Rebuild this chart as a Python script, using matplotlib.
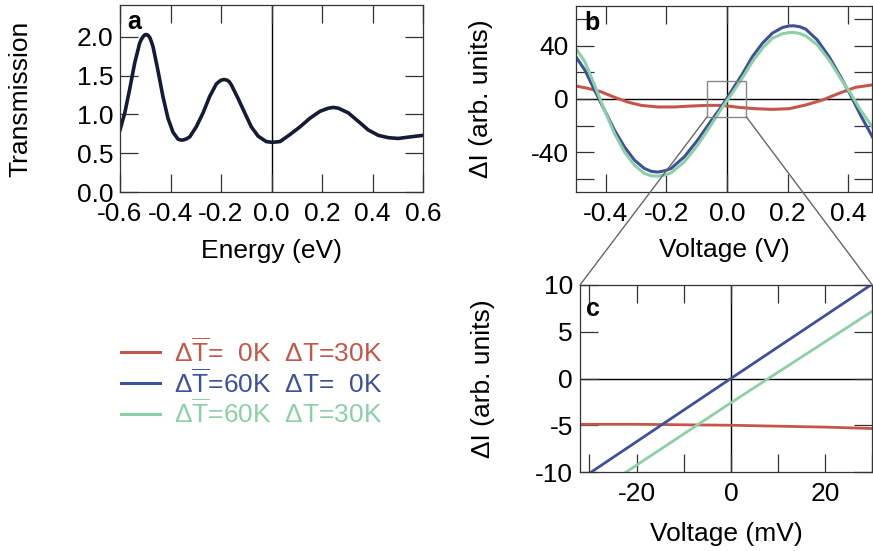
import matplotlib
matplotlib.use("Agg")
import matplotlib.pyplot as plt
from matplotlib.ticker import MultipleLocator, FormatStrFormatter
from matplotlib.patches import Rectangle, ConnectionPatch

plt.rcParams['font.family'] = ['Liberation Sans', 'DejaVu Sans']
plt.rcParams['axes.unicode_minus'] = False
plt.rcParams['mathtext.fontset'] = 'custom'
plt.rcParams['mathtext.rm'] = 'Liberation Sans'
plt.rcParams['mathtext.it'] = 'Liberation Sans:italic'
plt.rcParams['mathtext.bf'] = 'Liberation Sans:bold'

# panel a: transmission vs energy
energy = [-0.600, -0.581, -0.562, -0.542, -0.522, -0.515, -0.509, -0.502, -0.496, -0.489,
          -0.482, -0.476, -0.469, -0.450, -0.430, -0.410, -0.390, -0.370, -0.360, -0.350,
          -0.337, -0.324, -0.298, -0.271, -0.245, -0.219, -0.209, -0.200, -0.188, -0.175,
          -0.167, -0.159, -0.133, -0.106, -0.080, -0.053, -0.021, 0.002, 0.034, 0.073,
          0.113, 0.152, 0.192, 0.225, 0.245, 0.265, 0.304, 0.344, 0.383, 0.423,
          0.463, 0.502, 0.549, 0.600]
trans = [0.80, 1.02, 1.32, 1.66, 1.92, 1.97, 2.00, 2.025, 2.03, 2.02,
         1.99, 1.94, 1.87, 1.57, 1.23, 0.95, 0.77, 0.68, 0.67, 0.67,
         0.685, 0.71, 0.84, 1.02, 1.23, 1.39, 1.42, 1.44, 1.45, 1.44,
         1.42, 1.38, 1.21, 1.02, 0.84, 0.72, 0.65, 0.64, 0.65, 0.74,
         0.84, 0.95, 1.04, 1.08, 1.09, 1.08, 1.02, 0.91, 0.80, 0.73,
         0.70, 0.69, 0.71, 0.73]

# panel b: current difference vs voltage
volt = [-0.500, -0.470, -0.438, -0.405, -0.372, -0.339, -0.306, -0.273, -0.250, -0.229,
        -0.205, -0.185, -0.141, -0.097, -0.053, -0.016, 0.017, 0.050, 0.084, 0.117,
        0.150, 0.183, 0.205, 0.221, 0.240, 0.260, 0.298, 0.337, 0.375, 0.408,
        0.441, 0.480]
di_blue = [31.9, 21.9, 6.8, -8.3, -23.4, -36.0, -46.0, -52.3, -54.5, -55.0,
           -54.0, -52.3, -43.5, -30.9, -16.5, -5.0, 6.8, 18.5, 31.9, 42.0,
           49.6, 53.8, 55.0, 55.1, 54.4, 52.6, 44.5, 31.9, 16.8, 3.0,
           -12.1, -28.4]
di_green = [38.2, 28.2, 10.6, -8.3, -25.9, -39.8, -49.8, -56.1, -57.8, -58.1,
            -57.2, -55.6, -47.3, -34.7, -19.6, -6.5, 4.3, 15.6, 28.2, 38.2,
            45.8, 49.1, 50.0, 50.1, 49.3, 47.5, 40.8, 29.4, 15.6, 4.3,
            -8.3, -20.9]
volt_red = [-0.500, -0.461, -0.417, -0.372, -0.328, -0.284, -0.229, -0.174, -0.119, -0.064,
            -0.016, 0.039, 0.094, 0.150, 0.205, 0.260, 0.315, 0.370, 0.425, 0.480]
di_red = [9.8, 8.1, 5.5, 1.3, -2.3, -4.8, -6.0, -6.0, -5.3, -4.8,
          -4.8, -6.3, -7.3, -7.8, -7.3, -4.5, -0.8, 4.3, 8.8, 10.6]

# panel c: zoom around zero bias (mV)
mv_blue = [-29.6, 0.0, 29.7]
dic_blue = [-10.0, 0.0, 10.0]
mv_green = [-22.2, 0.0, 30.0]
dic_green = [-10.0, -2.6, 7.2]
mv_red = [-32, -20, -10, 0, 10, 20, 30]
dic_red = [-4.9, -4.9, -4.95, -5.0, -5.1, -5.2, -5.35]

labels = [r'$\Delta\overline{\mathrm{T}}$=  0K  ΔT=30K',
          r'$\Delta\overline{\mathrm{T}}$=60K  ΔT=  0K',
          r'$\Delta\overline{\mathrm{T}}$=60K  ΔT=30K']
c_red, c_blue, c_green = '#c4574a', '#3f5197', '#8dcfa6'
c_dark = '#141b34'
FS = 19

fig = plt.figure(figsize=(8.73, 5.51), dpi=100)
W, H = 873, 551
def pos(l, t, r, b):
    return [l / W, 1 - b / H, (r - l) / W, (b - t) / H]

ax_a = fig.add_axes(pos(120, 5, 423, 192))
ax_b = fig.add_axes(pos(575.7, 6, 872.3, 192))
ax_c = fig.add_axes(pos(580, 285, 872.3, 472))

for ax in (ax_a, ax_b, ax_c):
    ax.tick_params(which='both', direction='in', top=True, right=True,
                   length=13, width=0.9, color='#333333', labelsize=FS)
    ax.tick_params(axis='x', which='both', pad=7)
    ax.tick_params(axis='y', which='both', pad=5)
    for s in ax.spines.values():
        s.set_linewidth(0.9)
        s.set_color('#333333')
    ax.axvline(0, color='black', lw=1, zorder=1)

# a
ax_a.plot(energy, trans, color=c_dark, lw=2.6)
ax_a.set_xlim(-0.6, 0.6)
ax_a.set_ylim(0, 2.41)
ax_a.xaxis.set_major_locator(MultipleLocator(0.2))
ax_a.yaxis.set_major_locator(MultipleLocator(0.5))
ax_a.xaxis.set_major_formatter(FormatStrFormatter('%.1f'))
ax_a.yaxis.set_major_formatter(FormatStrFormatter('%.1f'))
ax_a.set_xlabel('Energy (eV)', fontsize=FS)
ax_a.set_ylabel('Transmission', fontsize=FS)
ax_a.xaxis.set_label_coords(0.5, -0.25)
ax_a.yaxis.set_label_coords(-0.29, 0.5)
ax_a.text(0.025, 0.975, 'a', transform=ax_a.transAxes, fontsize=18,
          fontweight='bold', va='top')

# b
ax_b.axhline(0, color='black', lw=1, zorder=1)
l_red, = ax_b.plot(volt_red, di_red, color=c_red, lw=2.2)
l_blue, = ax_b.plot(volt, di_blue, color=c_blue, lw=2.2)
l_green, = ax_b.plot(volt, di_green, color=c_green, lw=2.2)
ax_b.set_xlim(-0.5, 0.48)
ax_b.set_ylim(-70, 70)
ax_b.xaxis.set_major_locator(MultipleLocator(0.2))
ax_b.xaxis.set_major_formatter(FormatStrFormatter('%.1f'))
ax_b.yaxis.set_major_locator(MultipleLocator(40))
ax_b.yaxis.set_minor_locator(MultipleLocator(20))
ax_b.set_xlabel('Voltage (V)', fontsize=FS)
ax_b.set_ylabel('ΔI (arb. units)', fontsize=FS)
ax_b.xaxis.set_label_coords(0.5, -0.25)
ax_b.yaxis.set_label_coords(-0.28, 0.5)
ax_b.text(0.03, 0.975, 'b', transform=ax_b.transAxes, fontsize=18,
          fontweight='bold', va='top')
ax_b.add_patch(Rectangle((-0.066, -13.5), 0.13, 27, fill=False,
                         edgecolor='#888888', lw=1, zorder=5))

# c
ax_c.axhline(0, color='black', lw=1, zorder=1)
ax_c.plot(mv_red, dic_red, color=c_red, lw=2)
ax_c.plot(mv_blue, dic_blue, color=c_blue, lw=2)
ax_c.plot(mv_green, dic_green, color=c_green, lw=2)
ax_c.set_xlim(-32, 30)
ax_c.set_ylim(-10, 10)
ax_c.xaxis.set_major_locator(MultipleLocator(20))
ax_c.xaxis.set_minor_locator(MultipleLocator(10))
ax_c.yaxis.set_major_locator(MultipleLocator(5))
ax_c.set_xlabel('Voltage (mV)', fontsize=FS)
ax_c.set_ylabel('ΔI (arb. units)', fontsize=FS)
ax_c.xaxis.set_label_coords(0.5, -0.27)
ax_c.yaxis.set_label_coords(-0.29, 0.5)
ax_c.text(0.02, 0.935, 'c', transform=ax_c.transAxes, fontsize=18,
          fontweight='bold', va='top')

# zoom connectors
for xb, xc in ((-0.066, 0), (0.064, 1)):
    con = ConnectionPatch(xyA=(xb, -13.5), coordsA=ax_b.transData,
                          xyB=(xc, 1), coordsB=ax_c.transAxes,
                          color='#666666', lw=1)
    fig.add_artist(con)

fig.legend([l_red, l_blue, l_green], labels, loc='upper left',
           bbox_to_anchor=(97 / W, 1 - 314 / H), frameon=False,
           fontsize=FS, labelcolor='linecolor', handlelength=1.5,
           handletextpad=0.5, labelspacing=0.08)

fig.savefig('out.png', dpi=100)
